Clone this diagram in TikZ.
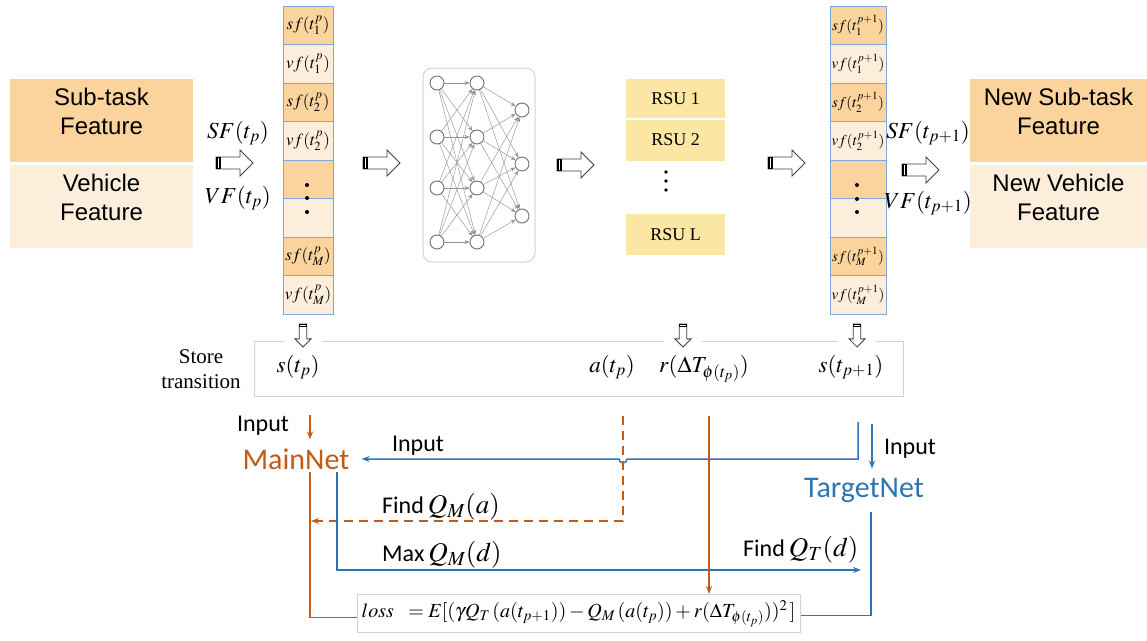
\documentclass[tikz,border=0pt]{standalone}
\usepackage{mathptmx}
\usepackage{fontspec}
\setmainfont{Liberation Serif}
\newfontfamily\timesfont{Liberation Serif}
\newfontfamily\arialfont{Liberation Sans}
\newfontfamily\calfont{Carlito}
\usetikzlibrary{arrows.meta, positioning, calc}
\definecolor{SubOrange}{HTML}{FAD49C}
\definecolor{VehCream}{HTML}{FDEEDC}
\definecolor{RsuYellow}{HTML}{FCE6A4}
\definecolor{CellBlue}{HTML}{7DA7DD}
\definecolor{NetOrange}{HTML}{C55A11}
\definecolor{NetBlue}{HTML}{2E75B6}
\definecolor{BoxGray}{HTML}{C9D4E3}
\definecolor{NeuronGray}{HTML}{707070}

\tikzset{
  feat/.style={minimum width=183pt, minimum height=83pt, inner sep=0pt},
  feattext/.style={align=center, inner sep=0pt, yshift=9pt,
    font=\arialfont\fontsize{24}{29}\selectfont},
  cell/.style={draw=CellBlue, line width=1pt, minimum height=38.5pt, inner sep=0pt,
    font=\fontsize{17}{20}\selectfont},
  rsu/.style={fill=RsuYellow, minimum width=99pt, minimum height=39pt, inner sep=0pt,
    font=\timesfont\fontsize{18}{20}\selectfont},
  neuron/.style={circle, draw=NeuronGray, fill=white, line width=0.9pt, minimum size=14pt, inner sep=0pt},
  syn/.style={gray!85, line width=0.45pt, -{Stealth[length=5pt,width=4pt]}},
  mathlbl/.style={font=\fontsize{23}{26}\selectfont, inner sep=0pt},
  calib/.style={font=\calfont\fontsize{24}{28}\selectfont, inner sep=0pt},
  netlbl/.style={font=\calfont\fontsize{30}{34}\selectfont, inner sep=0pt},
  oline/.style={NetOrange, line width=1.5pt},
  bline/.style={NetBlue, line width=1.5pt},
  arr/.style={-{Stealth[length=8pt,width=6pt]}},
  harrow/.pic={
    \draw[black!75, fill=white, line width=0.8pt] (0,-6) -- (24,-6) -- (24,-13) -- (37,0)
      -- (24,13) -- (24,6) -- (0,6) -- cycle;
    \fill[black] (0,-6) rectangle (5,6);
    \draw[white, line width=0.6pt] (2.5,-5) -- (2.5,5);
  }
}

\begin{document}
\begin{tikzpicture}[x=1pt, y=-1pt]
  \useasboundingbox (0,0) rectangle (1147,640);

  % Input features
  \node[feat, fill=SubOrange, label={[feattext]center:{Sub-task\\Feature}}] (sub) at (101.5,120) {};
  \node[feat, fill=VehCream, label={[feattext]center:{Vehicle\\Feature}}] (veh) at (101.5,206.5) {};
  \node[mathlbl] (sflbl) at (238,133) {$SF(t_p)$};
  \node[mathlbl] (vflbl) at (238,198) {$VF(t_p)$};
  \pic at (216,163) {harrow};

  % State vector s(t_p)
  \foreach \i/\c/\lab in {1/SubOrange/{$sf(t_1^{p})$}, 2/VehCream/{$vf(t_1^{p})$},
      3/SubOrange/{$sf(t_2^{p})$}, 4/VehCream/{$vf(t_2^{p})$},
      5/SubOrange/{}, 6/VehCream/{},
      7/SubOrange/{$sf(t_M^{p})$}, 8/VehCream/{$vf(t_M^{p})$}}
    \node[cell, fill=\c, minimum width=50pt] (lc\i) at (308,{6+38.5*(\i-0.5)}) {\lab};
  \foreach \y in {185,198,212} \fill (307,\y) circle (2pt);

  \pic at (363,163) {harrow};

  % Neural network
  \node[draw=BoxGray, line width=1pt, rounded corners=9pt, minimum width=112pt, minimum height=194pt] (nnbox) at (479,165) {};
  \foreach \j/\y in {1/83,2/137,3/188,4/242} {
    \node[neuron] (na\j) at (437,\y) {};
    \node[neuron] (nb\j) at (477,\y) {};
  }
  \foreach \j/\y in {1/110,2/164,3/216}
    \node[neuron] (nc\j) at (522,\y) {};
  \foreach \a in {1,...,4}
    \foreach \b in {1,...,4}
      \draw[syn] (na\a) -- (nb\b);
  \foreach \a in {1,...,4}
    \foreach \b in {1,...,3}
      \draw[syn] (nb\a) -- (nc\b);

  \pic at (557,165) {harrow};

  % Actions (RSUs)
  \node[rsu] (rsu1) at (675.5,98.5) {RSU 1};
  \node[rsu, minimum height=41pt] (rsu2) at (675.5,140) {RSU 2};
  \foreach \y in {172,181,190} \fill (666,\y) circle (1.8pt);
  \node[rsu, minimum height=41pt] (rsuL) at (675.5,234.5) {RSU L};

  \pic at (768,163) {harrow};

  % Next state vector s(t_{p+1})
  \foreach \i/\c/\lab in {1/SubOrange/{$sf(t_1^{p+1})$}, 2/VehCream/{$vf(t_1^{p+1})$},
      3/SubOrange/{$sf(t_2^{p+1})$}, 4/VehCream/{$vf(t_2^{p+1})$},
      5/SubOrange/{}, 6/VehCream/{},
      7/SubOrange/{$sf(t_M^{p+1})$}, 8/VehCream/{$vf(t_M^{p+1})$}}
    \node[cell, fill=\c, minimum width=56pt, font=\fontsize{15}{18}\selectfont] (rc\i) at (858,{6+38.5*(\i-0.5)}) {\lab};
  \foreach \y in {185,199,212} \fill (857,\y) circle (2pt);

  \node[mathlbl] (sflbl2) at (928,133) {$SF(t_{p+1})$};
  \node[mathlbl] (vflbl2) at (928,203) {$VF(t_{p+1})$};
  \pic at (902,170) {harrow};
  \node[feat, fill=SubOrange, minimum width=177pt, label={[feattext]center:{New Sub-task\\Feature}}] (nsub) at (1058.5,120) {};
  \node[feat, fill=VehCream, minimum width=177pt, label={[feattext]center:{New Vehicle\\Feature}}] (nveh) at (1058.5,206.5) {};

  % Store transition
  \node[align=center, font=\timesfont\fontsize{21}{25}\selectfont] (storelbl) at (201,369) {Store\\transition};
  \node[draw=BoxGray, line width=1pt, minimum width=649pt, minimum height=55pt] (store) at (578.5,368.5) {};
  \foreach \x in {303,683,857} {
    \fill[white] (\x-19,339) rectangle (\x+19,343);
    \pic[rotate=-90, scale=0.62] at (\x,324) {harrow};
  }
  \node[mathlbl] (st) at (298,367) {$s(t_p)$};
  \node[mathlbl] (at) at (612,367) {$a(t_p)$};
  \node[mathlbl] (rt) at (704,369) {$r(\Delta T_{\phi(t_p)})$};
  \node[mathlbl] (st1) at (851,367) {$s(t_{p+1})$};

  % MainNet / TargetNet
  \node[netlbl, text=NetOrange] (mainnet) at (296,459) {MainNet};
  \node[netlbl, text=NetBlue] (targetnet) at (864,490) {TargetNet};
  \node[calib] (inmain) at (263,426) {Input};
  \node[calib] (inmid) at (418,446) {Input};
  \node[calib] (intgt) at (910,449) {Input};
  \node[calib, anchor=base west] (findqm) at (382,513) {Find\,{\fontsize{27}{30}\selectfont$Q_M(a)$}};
  \node[calib, anchor=base west] (maxqm) at (382,561) {Max\,{\fontsize{27}{30}\selectfont$Q_M(d)$}};
  \node[calib, anchor=base west] (findqt) at (743,556) {Find\,{\fontsize{27}{30}\selectfont$Q_T(d)$}};

  \node[draw=BoxGray, line width=1pt, minimum width=443pt, minimum height=38pt, inner sep=0pt,
    font=\fontsize{20}{22}\selectfont] (loss) at (578.5,613.5)
    {$loss\ \ = E[(\gamma Q_T\,(a(t_{p+1})) - Q_M\,(a(t_p)) + r(\Delta T_{\phi(t_p)}))^2\,]$};

  \coordinate (mainin) at (310,415);
  \coordinate (mainout) at (310,472);
  \coordinate (mainmax) at (337,472);
  \coordinate (dashtop) at (623,416);
  \coordinate (rewtop) at (709,416);
  \coordinate (tgtin) at (858,422);
  \coordinate (tgtin2) at (872,424);
  \coordinate (tgtout) at (871,512);
  \coordinate (maxend) at (861,570);

  \draw[oline, arr, shorten >=9pt] (mainin) -- (mainin |- mainnet.north);
  \draw[bline, arr] (tgtin) |- ($(dashtop |- mainnet)+(4,0)$)
    arc[start angle=0, end angle=180, radius=4] -- ($(mainnet.east)+(12,0)$);
  \draw[bline, arr, shorten >=9pt] (tgtin2) -- (tgtin2 |- targetnet.north);
  \draw[oline, arr, dash pattern=on 9pt off 6pt] (dashtop) |- ($(mainout)+(1,49)$);
  \draw[oline] (mainout) |- ($(loss.west)+(0,4)$);
  \draw[bline, arr] (mainmax) |- (maxend);
  \draw[oline, arr] (rewtop) -- (rewtop |- loss.north);
  \draw[bline] (tgtout) |- ($(loss.east)+(0,2)$);
\end{tikzpicture}
\end{document}
